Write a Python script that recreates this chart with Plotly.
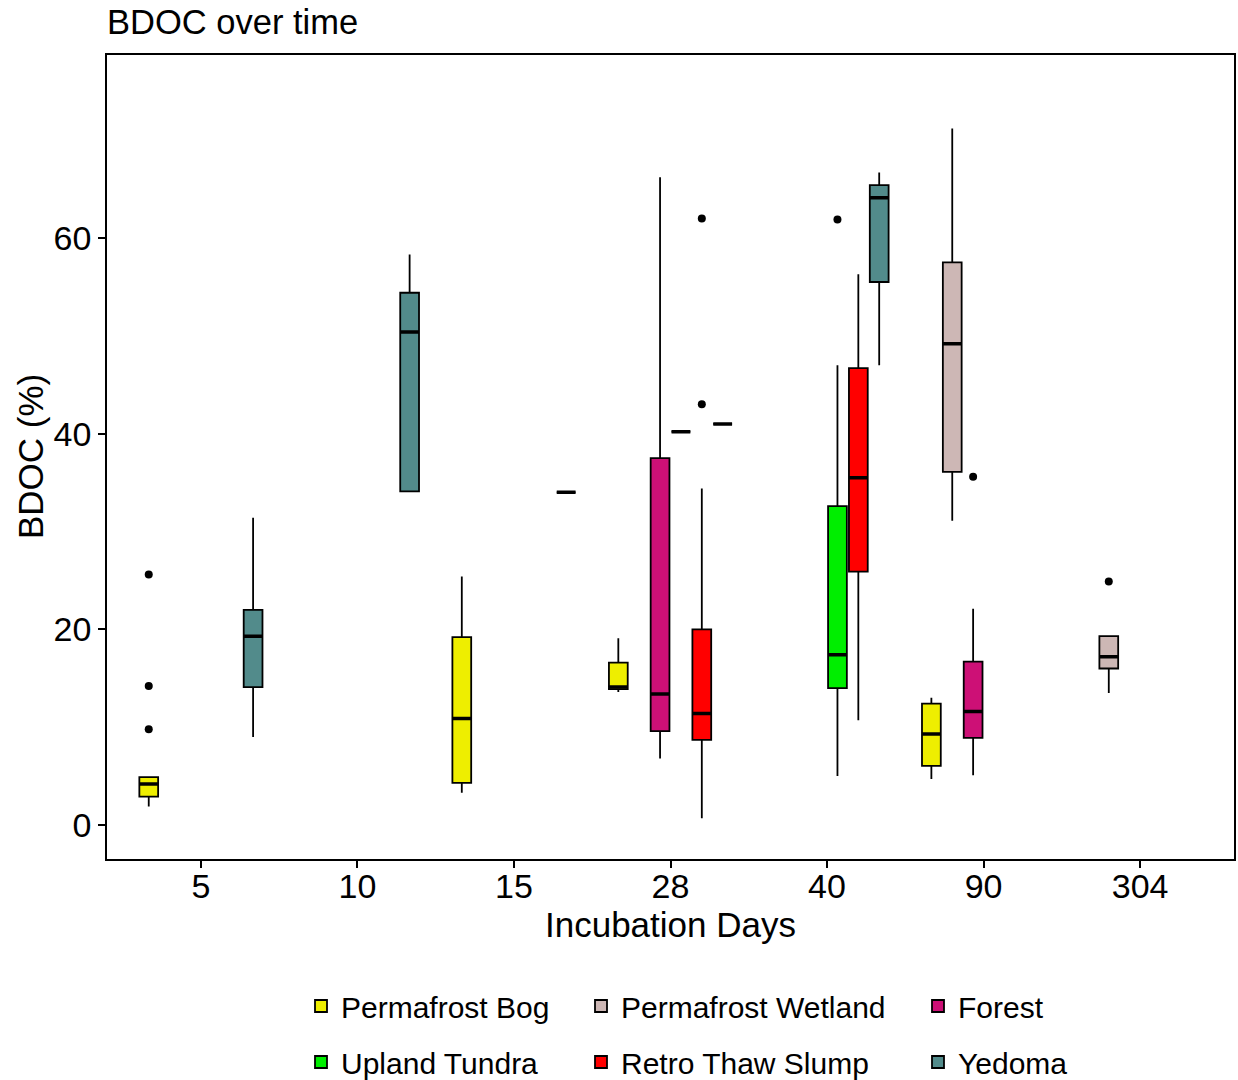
import plotly.graph_objects as go

# ---------------- data ----------------
days = ["5", "10", "15", "28", "40", "90", "304"]
groups = ["Permafrost Bog", "Permafrost Wetland", "Forest",
          "Upland Tundra", "Retro Thaw Slump", "Yedoma"]
colors = ["#EEEE00", "#CDB7B5", "#CD1076", "#00EE00", "#FF0000", "#528B8B"]

# Permafrost Bog
pb_days = ["5", "15", "28", "90"]
pb_low = [1.9, 3.3, 13.6, 4.7]
pb_q1 = [2.9, 4.3, 13.9, 6.05]
pb_med = [4.2, 10.9, 14.1, 9.3]
pb_q3 = [4.9, 19.2, 16.6, 12.4]
pb_high = [4.9, 25.4, 19.1, 13.0]
pb_out_days = ["5"]
pb_out = [[9.8, 14.2, 25.6]]

# Permafrost Wetland
pw_days = ["90", "304"]
pw_low = [31.1, 13.5]
pw_q1 = [36.1, 16.0]
pw_med = [49.2, 17.2]
pw_q3 = [57.5, 19.3]
pw_high = [71.2, 19.3]
pw_out_days = ["304"]
pw_out = [[24.9]]

# Forest
fo_days = ["28", "90"]
fo_low = [6.8, 5.1]
fo_q1 = [9.6, 8.9]
fo_med = [13.4, 11.6]
fo_q3 = [37.5, 16.7]
fo_high = [66.2, 22.1]
fo_out_days = ["90"]
fo_out = [[35.6]]

# Upland Tundra
ut_days = ["28", "40"]
ut_low = [40.2, 5.0]
ut_q1 = [40.2, 14.0]
ut_med = [40.2, 17.4]
ut_q3 = [40.2, 32.6]
ut_high = [40.2, 47.0]
ut_out_days = ["40"]
ut_out = [[61.9]]

# Retro Thaw Slump
rts_days = ["28", "40"]
rts_low = [0.7, 10.7]
rts_q1 = [8.7, 25.9]
rts_med = [11.4, 35.5]
rts_q3 = [20.0, 46.7]
rts_high = [34.4, 56.3]
rts_out_days = ["28"]
rts_out = [[43.0, 62.0]]

# Yedoma
ye_days = ["5", "10", "15", "28", "40"]
ye_low = [9.0, 34.1, 34.0, 41.0, 47.0]
ye_q1 = [14.1, 34.1, 34.0, 41.0, 55.5]
ye_med = [19.3, 50.4, 34.0, 41.0, 64.1]
ye_q3 = [22.0, 54.4, 34.0, 41.0, 65.4]
ye_high = [31.4, 58.3, 34.0, 41.0, 66.7]
ye_out_days = []
ye_out = []

y_ticks = [0, 20, 40, 60]

series = [
    (pb_days, pb_low, pb_q1, pb_med, pb_q3, pb_high, pb_out_days, pb_out),
    (pw_days, pw_low, pw_q1, pw_med, pw_q3, pw_high, pw_out_days, pw_out),
    (fo_days, fo_low, fo_q1, fo_med, fo_q3, fo_high, fo_out_days, fo_out),
    (ut_days, ut_low, ut_q1, ut_med, ut_q3, ut_high, ut_out_days, ut_out),
    (rts_days, rts_low, rts_q1, rts_med, rts_q3, rts_high, rts_out_days, rts_out),
    (ye_days, ye_low, ye_q1, ye_med, ye_q3, ye_high, ye_out_days, ye_out),
]
legend_ids = ["legend", "legend2", "legend3", "legend", "legend2", "legend3"]

FONT = "Liberation Sans, Arial, sans-serif"

fig = go.Figure()
for name, col, leg, s in zip(groups, colors, legend_ids, series):
    d, lo, q1, md, q3, hi, od, out = s
    fig.add_trace(go.Box(
        name=name, x=d,
        lowerfence=lo, q1=q1, median=md, q3=q3, upperfence=hi,
        boxpoints=False,
        fillcolor=col, line=dict(color="black", width=1.8),
        whiskerwidth=0, offsetgroup=name, legendgroup=name, legend=leg,
        hoverinfo="skip",
    ))
    # thicker median line (ggplot style)
    fig.add_trace(go.Box(
        name=name, x=d,
        lowerfence=md, q1=md, median=md, q3=md, upperfence=md,
        boxpoints=False, fillcolor="rgba(0,0,0,0)",
        line=dict(color="black", width=3.5), whiskerwidth=0,
        offsetgroup=name, legendgroup=name, showlegend=False,
        hoverinfo="skip",
    ))
    # outliers beyond the whiskers
    if od:
        idx = [d.index(v) for v in od]
        omed = [md[i] for i in idx]
        fig.add_trace(go.Box(
            name=name, x=od, y=out,
            lowerfence=[lo[i] for i in idx], q1=omed, median=omed, q3=omed,
            upperfence=[hi[i] for i in idx],
            boxpoints="outliers", jitter=0, pointpos=0,
            marker=dict(color="black", size=8, line=dict(width=0)),
            fillcolor="rgba(0,0,0,0)", line=dict(color="rgba(0,0,0,0)", width=0),
            whiskerwidth=0, offsetgroup=name, legendgroup=name,
            showlegend=False, hoverinfo="skip",
        ))

tickfont = dict(family=FONT, size=34, color="black")
leg_common = dict(xref="container", xanchor="left",
                  y=1 - 980 / 1080, yref="container", yanchor="top",
                  orientation="v", tracegroupgap=14, bgcolor="rgba(0,0,0,0)",
                  font=dict(family=FONT, size=30, color="black"))

fig.update_layout(
    width=1238, height=1080,
    paper_bgcolor="white", plot_bgcolor="white",
    margin=dict(l=107, r=4, t=55, b=221, autoexpand=False),
    boxmode="group", boxgap=0.2, boxgroupgap=0.1,
    showlegend=True,
    title=dict(text="BDOC over time", x=0, xref="paper", xanchor="left",
               y=1 - 22 / 1080, yref="container", yanchor="middle",
               font=dict(family=FONT, size=34.5, color="black")),
    xaxis=dict(type="category", categoryorder="array", categoryarray=days,
               range=[-0.6, 6.6], ticklabelstandoff=-11,
               showline=True, linecolor="black", linewidth=1.6, mirror=True,
               showgrid=False, zeroline=False,
               ticks="outside", ticklen=7, tickwidth=1.6, tickcolor="black",
               tickfont=tickfont,
               title=dict(text="Incubation Days", standoff=0,
                          font=dict(family=FONT, size=35, color="black"))),
    yaxis=dict(range=[-3.47, 78.7], tickvals=y_ticks,
               showline=True, linecolor="black", linewidth=1.6, mirror=True,
               showgrid=False, zeroline=False,
               ticks="outside", ticklen=7, tickwidth=1.6, tickcolor="black",
               tickfont=tickfont),
    legend=dict(x=301 / 1238, **leg_common),
    legend2=dict(x=581 / 1238, **leg_common),
    legend3=dict(x=918 / 1238, **leg_common),
    annotations=[dict(text="BDOC (%)", textangle=-90, showarrow=False,
                      xref="paper", x=0, xanchor="center", xshift=-77,
                      yref="paper", y=0.5, yanchor="middle",
                      font=dict(family=FONT, size=35, color="black"))],
)

fig.write_html("out.html")
